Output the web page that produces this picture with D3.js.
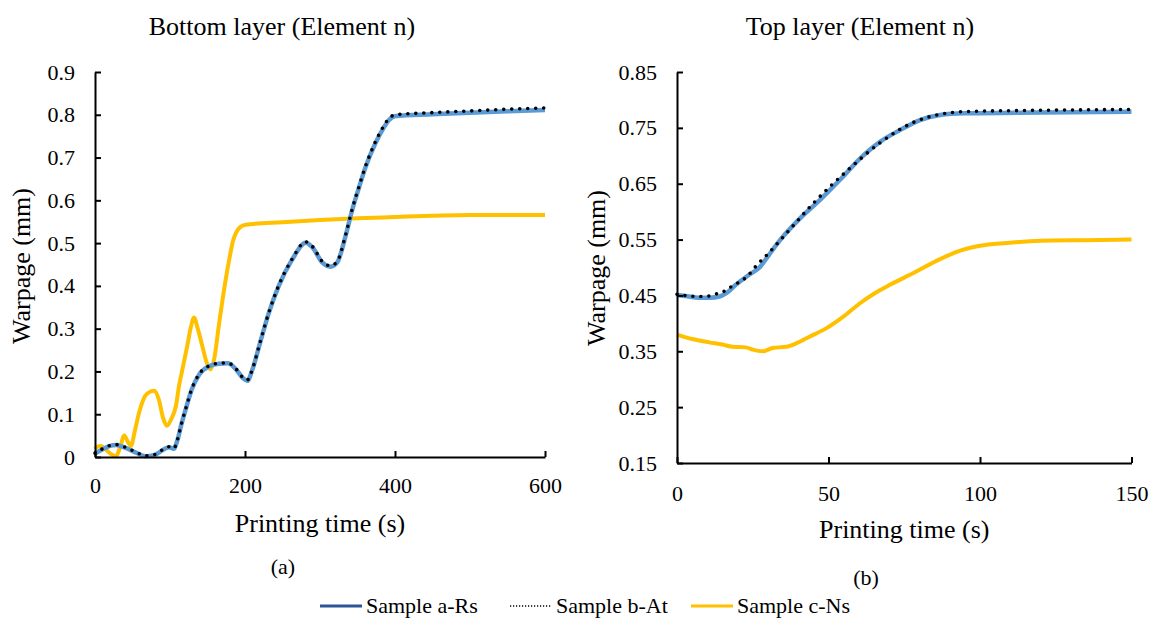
<!DOCTYPE html>
<html>
<head>
<meta charset="utf-8">
<script src="https://cdn.jsdelivr.net/npm/d3@7"></script>
<style>
  body { margin: 0; background: #fff; }
  svg text { font-family: "Liberation Serif", Tinos, "Times New Roman", Times, "DejaVu Serif", "Noto Serif", serif !important; fill: #000; }
</style>
</head>
<body>
<div id="chart"></div>
<script>
var width = 1158, height = 626;

// ---- bottom layer (left panel) ----
var bottomTimeA = [0, 10, 20, 28, 40, 55, 67, 80, 92, 99, 105, 110, 115, 121, 129, 139, 152, 165, 177, 188, 197, 203, 210, 219, 232, 245, 263, 281, 290, 303, 314, 323, 334, 343, 352, 361, 374, 385, 392, 401, 450, 500, 550, 600];
var bottomValA  = [0.008, 0.018, 0.026, 0.028, 0.022, 0.010, 0.002, 0.005, 0.018, 0.023, 0.019, 0.040, 0.075, 0.112, 0.158, 0.193, 0.212, 0.218, 0.219, 0.205, 0.185, 0.178, 0.205, 0.260, 0.338, 0.400, 0.462, 0.501, 0.490, 0.455, 0.445, 0.455, 0.516, 0.578, 0.630, 0.679, 0.734, 0.770, 0.788, 0.797, 0.801, 0.805, 0.808, 0.811];
var bottomValB  = [0.009, 0.019, 0.027, 0.029, 0.023, 0.011, 0.003, 0.006, 0.019, 0.024, 0.020, 0.041, 0.076, 0.113, 0.159, 0.194, 0.213, 0.219, 0.220, 0.206, 0.186, 0.180, 0.206, 0.261, 0.339, 0.401, 0.463, 0.503, 0.492, 0.457, 0.447, 0.457, 0.518, 0.580, 0.632, 0.681, 0.737, 0.774, 0.792, 0.800, 0.805, 0.809, 0.813, 0.816];
var bottomTimeC = [0, 4, 8, 14, 22, 28, 33, 39, 44, 48, 53, 59, 67, 74, 79, 85, 91, 96, 102, 108, 112, 116, 123, 128, 132, 137, 143, 149, 154, 159, 165, 172, 179, 184, 188, 194, 201, 250, 300, 350, 400, 450, 500, 600];
var bottomValC  = [0.019, 0.025, 0.026, 0.018, 0.006, 0.002, 0.020, 0.050, 0.035, 0.026, 0.060, 0.105, 0.143, 0.153, 0.155, 0.135, 0.090, 0.073, 0.090, 0.120, 0.166, 0.200, 0.260, 0.305, 0.326, 0.300, 0.260, 0.220, 0.205, 0.230, 0.306, 0.390, 0.462, 0.505, 0.524, 0.538, 0.543, 0.549, 0.554, 0.558, 0.561, 0.564, 0.566, 0.566];

// ---- top layer (right panel) ----
var topTimeA = [0, 4, 7, 11, 14, 17, 19.4, 23.8, 27.4, 30, 34, 40.6, 47.2, 53.8, 60.4, 67, 73.6, 80.2, 86.8, 95, 113, 130, 150];
var topValA  = [0.451, 0.448, 0.446, 0.446, 0.448, 0.457, 0.469, 0.487, 0.501, 0.520, 0.549, 0.588, 0.621, 0.657, 0.695, 0.725, 0.746, 0.764, 0.773, 0.776, 0.777, 0.778, 0.779];
var topTimeB = [0, 4, 7, 11, 13.6, 15.8, 18, 20.6, 22.8, 26.3, 30.1, 35.6, 45, 56.5, 67, 78.5, 86.6, 94.5, 113, 130, 150];
var topValB  = [0.452, 0.449, 0.448, 0.449, 0.454, 0.458, 0.466, 0.474, 0.482, 0.504, 0.525, 0.558, 0.615, 0.675, 0.723, 0.761, 0.774, 0.779, 0.781, 0.782, 0.783];
var topTimeC = [0, 5, 10.6, 15, 18.3, 22.7, 25, 28.2, 31.6, 36, 39.3, 43.7, 49.2, 54.9, 60.4, 65, 70.3, 78, 86.8, 92.3, 100, 108.8, 119.8, 135, 150];
var topValC  = [0.380, 0.372, 0.366, 0.362, 0.358, 0.357, 0.353, 0.350, 0.356, 0.358, 0.364, 0.376, 0.391, 0.412, 0.436, 0.453, 0.469, 0.490, 0.515, 0.528, 0.539, 0.544, 0.548, 0.549, 0.550];

var bottomXTicks = [0, 200, 400, 600];
var bottomYTicks = [0, 0.1, 0.2, 0.3, 0.4, 0.5, 0.6, 0.7, 0.8, 0.9];
var topXTicks = [0, 50, 100, 150];
var topYTicks = [0.15, 0.25, 0.35, 0.45, 0.55, 0.65, 0.75, 0.85];

var seriesNames = ["Sample a-Rs", "Sample b-At", "Sample c-Ns"];

var svg = d3.select("#chart").append("svg")
    .attr("width", width)
    .attr("height", height);

function zip(t, v) { return t.map(function(d, i) { return [d, v[i]]; }); }

function drawPanel(opt) {
  var x = d3.scaleLinear().domain(opt.xDomain).range(opt.xRange);
  var y = d3.scaleLinear().domain(opt.yDomain).range(opt.yRange);
  var g = svg.append("g");

  var line = d3.line()
      .x(function(d) { return x(d[0]); })
      .y(function(d) { return y(d[1]); })
      .curve(d3.curveMonotoneX);

  // yellow first, blue + dots over it
  g.append("path")
      .datum(opt.c)
      .attr("d", line)
      .attr("fill", "none")
      .attr("stroke", "#FFC000")
      .attr("stroke-width", 4);

  g.append("path")
      .datum(opt.a)
      .attr("d", line)
      .attr("fill", "none")
      .attr("stroke", "#5B9BD5")
      .attr("stroke-width", 4.5);

  g.append("path")
      .datum(opt.b)
      .attr("d", line)
      .attr("fill", "none")
      .attr("stroke", "#000")
      .attr("stroke-width", 3.6)
      .attr("stroke-linecap", "round")
      .attr("stroke-dasharray", "0,8");

  var xAxis = g.append("g")
      .attr("transform", "translate(0," + opt.yRange[0] + ")")
      .call(d3.axisBottom(x).tickValues(opt.xTicks).tickSizeInner(-6).tickSizeOuter(0)
        .tickPadding(opt.xPad).tickFormat(d3.format("d")));

  var yAxis = g.append("g")
      .attr("transform", "translate(" + opt.xRange[0] + ",0)")
      .call(d3.axisLeft(y).tickValues(opt.yTicks).tickSizeInner(-6).tickSizeOuter(0)
        .tickPadding(20).tickFormat(opt.yFormat));

  [xAxis, yAxis].forEach(function(a) {
    a.attr("font-family", null);
    a.select(".domain").attr("stroke", "#000").attr("stroke-width", 2);
    a.selectAll(".tick line").attr("stroke", "#000").attr("stroke-width", 2);
    a.selectAll(".tick text").style("font-size", "22px").attr("fill", "#000");
  });

  g.append("text")
      .attr("x", opt.titleX).attr("y", 35)
      .attr("text-anchor", "middle")
      .style("font-size", "26px")
      .text(opt.title);

  g.append("text")
      .attr("x", (opt.xRange[0] + opt.xRange[1]) / 2 + opt.xTitleShift).attr("y", opt.xTitleY)
      .attr("text-anchor", "middle")
      .style("font-size", "26px")
      .text("Printing time (s)");

  g.append("text")
      .attr("transform", "translate(" + opt.yTitleX + "," + opt.yTitleY + ") rotate(-90)")
      .attr("text-anchor", "middle")
      .style("font-size", "26px")
      .text("Warpage (mm)");

  g.append("text")
      .attr("x", opt.tagX).attr("y", opt.tagY)
      .attr("text-anchor", "middle")
      .style("font-size", "22px")
      .text(opt.tag);
}

drawPanel({
  xDomain: [0, 600], xRange: [95, 545],
  yDomain: [0, 0.9], yRange: [457, 72],
  a: zip(bottomTimeA, bottomValA), b: zip(bottomTimeA, bottomValB), c: zip(bottomTimeC, bottomValC),
  xTicks: bottomXTicks, yTicks: bottomYTicks, yFormat: d3.format(""),
  xPad: 20, title: "Bottom layer (Element n)", titleX: 282,
  xTitleShift: 0, xTitleY: 532, yTitleX: 30, yTitleY: 266,
  tag: "(a)", tagX: 283, tagY: 574
});

drawPanel({
  xDomain: [0, 150], xRange: [677, 1131.5],
  yDomain: [0.15, 0.85], yRange: [463, 72],
  a: zip(topTimeA, topValA), b: zip(topTimeB, topValB), c: zip(topTimeC, topValC),
  xTicks: topXTicks, yTicks: topYTicks, yFormat: d3.format(".2f"),
  xPad: 22, title: "Top layer (Element n)", titleX: 860,
  xTitleShift: 0, xTitleY: 538, yTitleX: 605, yTitleY: 268,
  tag: "(b)", tagX: 866, tagY: 585
});

// legend
var legend = svg.append("g").attr("transform", "translate(0,606)");
var legendItems = [
  { name: seriesNames[0], x: 320, color: "#2F5597", dash: null, w: 3 },
  { name: seriesNames[1], x: 510, color: "#000", dash: "1.2,1.8", w: 1.6 },
  { name: seriesNames[2], x: 691, color: "#FFC000", dash: null, w: 3 }
];
legendItems.forEach(function(d) {
  legend.append("line")
      .attr("x1", d.x).attr("x2", d.x + 42)
      .attr("y1", 0).attr("y2", 0)
      .attr("stroke", d.color)
      .attr("stroke-width", d.w)
      .attr("stroke-dasharray", d.dash);
  legend.append("text")
      .attr("x", d.x + 46).attr("y", 7)
      .style("font-size", "22px")
      .text(d.name);
});
</script>
</body>
</html>
